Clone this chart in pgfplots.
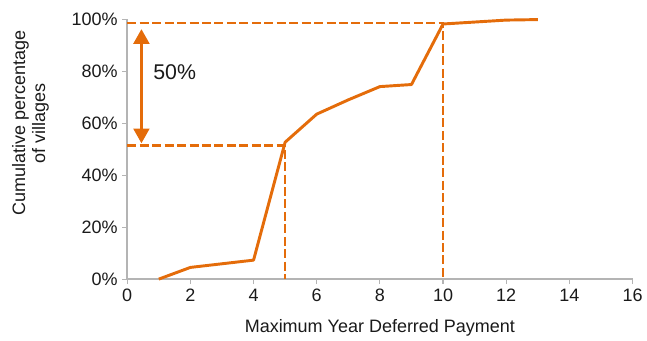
\documentclass[border=0pt]{standalone}
\usepackage{pgfplots}
\pgfplotsset{compat=1.18}
\usepackage{fontspec}
\setmainfont{Liberation Sans}
\usetikzlibrary{arrows.meta,calc}

\definecolor{curve}{HTML}{E46C0A}
\definecolor{axisgray}{HTML}{B4B4B4}
\definecolor{txt}{HTML}{1A1A1A}

\begin{document}
\begin{tikzpicture}
\begin{axis}[
  name=ax,
  scale only axis,
  width=379.3pt, height=195pt,
  xmin=0, xmax=16, ymin=0, ymax=100,
  axis x line=bottom, axis y line=left,
  axis line style={-, axisgray, line width=1.1pt},
  tick align=outside,
  major tick length=3.75pt,
  tick style={axisgray, line width=0.9pt},
  xtick={0,2,...,16},
  ytick={0,20,...,100},
  yticklabel={\pgfmathprintnumber{\tick}\%},
  /pgf/number format/assume math mode=true,
  ticklabel style={font=\fontsize{13.5}{16}\selectfont, text=txt},
  xlabel={Maximum Year Deferred Payment},
  ylabel={Cumulative percentage\\of villages},
  label style={font=\fontsize{13.5}{15}\selectfont, text=txt},
  xlabel style={at={(rel axis cs:0.5,0)}, anchor=center, yshift=-36.5pt},
  ylabel style={at={($(rel axis cs:0,0.6)+(-72.7pt,0)$)}, anchor=center, align=center},
  clip=false,
]
% cumulative share of villages by maximum deferral
\addplot[curve, line width=2.2pt, line join=round] coordinates {
  (1,0) (2,4.5) (4,7.3) (5,52.7) (6,63.5) (7,69.0) (8,74.1) (9,74.9) (10,98.2) (12,99.7) (13,99.9)
};
% reference lines at 5 and 10 years
\addplot[curve, line width=1.9pt, dash pattern=on 6.75pt off 2.6pt] coordinates {
  (0,51.4) (5,51.4) (5,0)
};
\addplot[curve, line width=1.9pt, dash pattern=on 6.75pt off 2.6pt] coordinates {
  (0,98.5) (10,98.5) (10,0)
};
% gap between the two levels
\addplot[curve, line width=1.6pt, {Triangle[width=12pt,length=11pt]}-{Triangle[width=12pt,length=11pt]}] coordinates {
  (0.45,96.2) (0.45,52.3)
};
\node[anchor=west, font=\fontsize{16}{19}\selectfont, text=txt, inner sep=0pt] at (axis cs:0.82,79.7) {50\%};
\end{axis}
\path (ax.south west) ++(-95.5pt,-45.5pt) rectangle ++(485.25pt,255pt);
\end{tikzpicture}
\end{document}
